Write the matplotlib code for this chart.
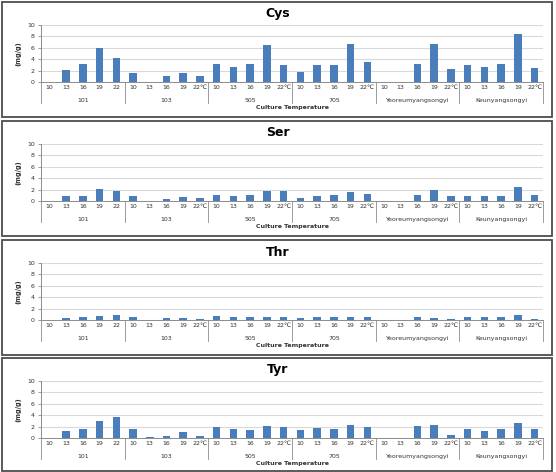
import matplotlib
matplotlib.use("Agg")
import matplotlib.pyplot as plt
from matplotlib.patches import Rectangle
import matplotlib.transforms as mtransforms

W, H = 556, 472
BLUE = "#4a7ebb"
GRID = "#d9d9d9"
AXC = "#8c8c8c"

groups = ["101", "103", "505", "705", "Yeoreumyangsongyi", "Keunyangsongyi"]
temps = ["10", "13", "16", "19", "22"]
temps_c = ["10", "13", "16", "19", "22℃"]

# amino acid content (mg/g), 5 temperatures per cultivar
cys = [0, 2.1, 3.1, 5.9, 4.2,
       1.5, 0, 1.0, 1.5, 1.0,
       3.1, 2.7, 3.2, 6.5, 2.9,
       1.8, 2.9, 2.9, 6.6, 3.5,
       0, 0, 3.2, 6.6, 2.2,
       2.9, 2.6, 3.2, 8.4, 2.5]
ser = [0, 0.8, 0.95, 2.1, 1.8,
       0.8, 0, 0.4, 0.7, 0.5,
       1.0, 0.9, 1.0, 1.8, 1.8,
       0.5, 0.8, 1.1, 1.6, 1.3,
       0, 0, 1.0, 2.0, 0.8,
       0.8, 0.8, 0.8, 2.4, 1.0]
thr = [0, 0.4, 0.5, 0.7, 0.8,
       0.6, 0, 0.3, 0.35, 0.1,
       0.65, 0.45, 0.6, 0.6, 0.45,
       0.4, 0.5, 0.5, 0.5, 0.5,
       0, 0, 0.45, 0.35, 0.2,
       0.6, 0.5, 0.5, 0.8, 0.25]
tyr = [0, 1.2, 1.6, 2.9, 3.7,
       1.6, 0.1, 0.3, 1.0, 0.35,
       1.9, 1.65, 1.4, 2.1, 1.95,
       1.4, 1.75, 1.65, 2.35, 1.95,
       0, 0, 2.05, 2.2, 0.6,
       1.65, 1.25, 1.55, 2.7, 1.65]

titles = ["Cys", "Ser", "Thr", "Tyr"]
series = [cys, ser, thr, tyr]
tops = [2, 121, 240, 358]   # panel top, px

ticklabels = temps + temps_c * (len(groups) - 1)

fig = plt.figure(figsize=(W / 100, H / 100), dpi=100)

for title, vals, T in zip(titles, series, tops):
    # panel frame
    ph = min(115, H - 1 - T)
    fig.patches.append(Rectangle((2 / W, (H - T - ph) / H), 550 / W, ph / H,
                                 transform=fig.transFigure, fill=False,
                                 edgecolor="#4d4d4d", lw=1.3))
    fig.text(0.5, (H - (T + 12)) / H, title, ha="center", va="center",
             fontsize=9, fontweight="bold")

    ax = fig.add_axes([41 / W, (H - (T + 80)) / H, 502 / W, 57 / H])
    x = list(range(len(vals)))
    ax.bar(x, vals, width=0.45, color=BLUE, zorder=3)
    ax.set_xlim(-0.5, len(vals) - 0.5)
    ax.set_ylim(0, 10)
    ax.set_yticks([0, 2, 4, 6, 8, 10])
    ax.yaxis.grid(True, color=GRID, lw=0.8, zorder=0)
    ax.set_xticks(x)
    ax.set_xticklabels(ticklabels, fontsize=4.5, color="#333333")
    ax.tick_params(axis="x", length=0, pad=2.5)
    ax.tick_params(axis="y", labelsize=4.5, length=2.5, width=0.6,
                   color=AXC, labelcolor="#333333", pad=2)
    for s in ["top", "right"]:
        ax.spines[s].set_visible(False)
    for s in ["left", "bottom"]:
        ax.spines[s].set_color(AXC)
        ax.spines[s].set_linewidth(0.7)
    ax.set_ylabel("(mg/g)", fontsize=4.8, fontweight="bold", labelpad=4,
                  color="#333333")

    trans = mtransforms.blended_transform_factory(ax.transData, ax.transAxes)
    for b in range(len(groups) + 1):
        xb = b * 5 - 0.5
        ax.plot([xb, xb], [0, -0.37], color=AXC, lw=0.6,
                transform=trans, clip_on=False)
    for g, name in enumerate(groups):
        ax.text(g * 5 + 2, -0.316, name, transform=trans, ha="center",
                va="center", fontsize=4.5, color="#333333")
    ax.text(0.5, -0.456, "Culture Temperature", transform=ax.transAxes,
            ha="center", va="center", fontsize=4.5, fontweight="bold",
            color="#333333")

fig.savefig("out.png", dpi=100)
